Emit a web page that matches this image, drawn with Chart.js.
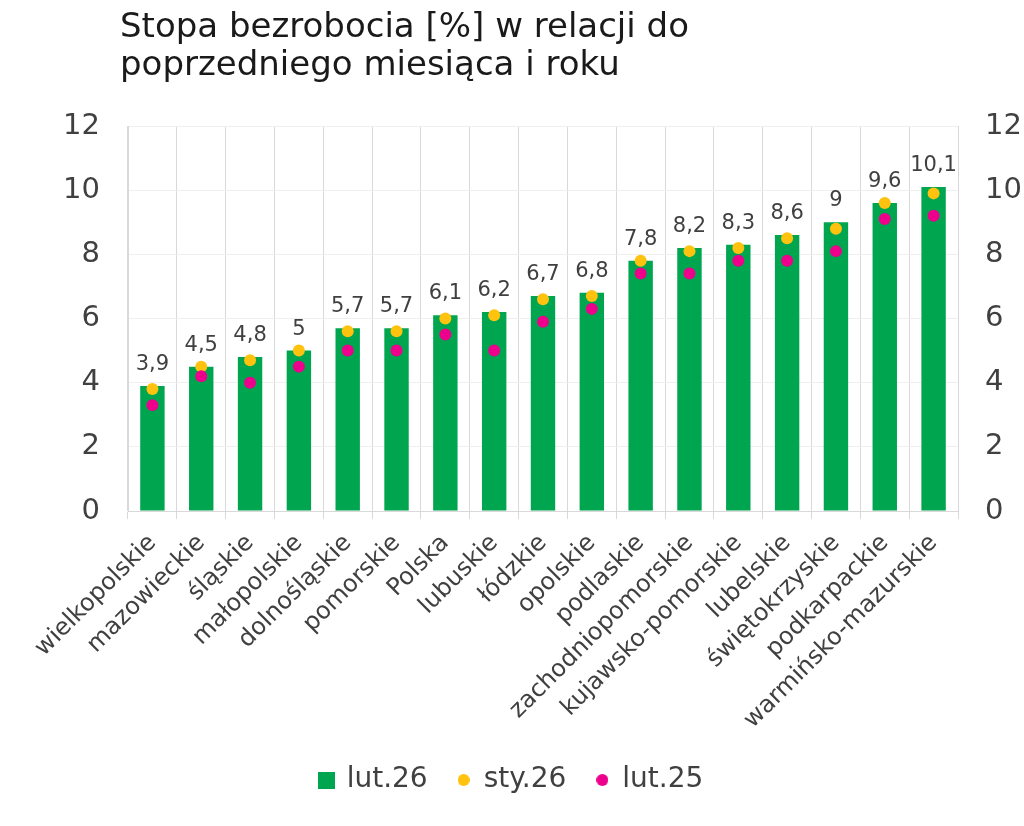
<!DOCTYPE html>
<html>
<head>
<meta charset="utf-8">
<script src="https://cdn.jsdelivr.net/npm/chart.js@4"></script>
<style>
  html, body { margin: 0; padding: 0; background: #fff; }
  #wrap { width: 1024px; height: 826px; position: relative; }
</style>
</head>
<body>
<div id="wrap"><canvas id="chart"></canvas></div>
<script>
const TITLE_LINES = ['Stopa bezrobocia [%] w relacji do', 'poprzedniego miesiąca i roku'];
const REGIONS = ['wielkopolskie', 'mazowieckie', 'śląskie', 'małopolskie', 'dolnośląskie', 'pomorskie', 'Polska',
  'lubuskie', 'łódzkie', 'opolskie', 'podlaskie', 'zachodniopomorskie', 'kujawsko-pomorskie', 'lubelskie',
  'świętokrzyskie', 'podkarpackie', 'warmińsko-mazurskie'];
const LUT26 = [3.9, 4.5, 4.8, 5, 5.7, 5.7, 6.1, 6.2, 6.7, 6.8, 7.8, 8.2, 8.3, 8.6, 9, 9.6, 10.1];
const STY26 = [3.8, 4.5, 4.7, 5.0, 5.6, 5.6, 6.0, 6.1, 6.6, 6.7, 7.8, 8.1, 8.2, 8.5, 8.8, 9.6, 9.9];
const LUT25 = [3.3, 4.2, 4.0, 4.5, 5.0, 5.0, 5.5, 5.0, 5.9, 6.3, 7.4, 7.4, 7.8, 7.8, 8.1, 9.1, 9.2];
const SERIES_NAMES = ['lut.26', 'sty.26', 'lut.25'];
const Y_MIN = 0, Y_MAX = 12, Y_STEP = 2;

const GREEN = '#00A64F';
const YELLOW = '#FFC20E';
const PINK = '#EC008C';
const TEXT = '#404040';
const FONT = "'DejaVu Sans', sans-serif";

function fmt(v) { return String(v).replace('.', ','); }

// small canvases used as legend markers
function marker(kind, color, size) {
  var c = document.createElement('canvas');
  c.width = size; c.height = size;
  var g = c.getContext('2d');
  g.fillStyle = color;
  if (kind === 'rect') g.fillRect(0, 0, size, size);
  else { g.beginPath(); g.arc(size / 2, size / 2, size / 2, 0, Math.PI * 2); g.fill(); }
  return c;
}

const titlePlugin = {
  id: 'leftTitle',
  afterDraw: function(chart) {
    var ctx = chart.ctx;
    ctx.save();
    ctx.fillStyle = '#1a1a1a';
    ctx.font = '34px ' + FONT;
    ctx.textBaseline = 'alphabetic';
    ctx.textAlign = 'left';
    TITLE_LINES.forEach(function(line, i) { ctx.fillText(line, 120, 37 + i * 38); });
    ctx.restore();
  }
};

const valueLabels = {
  id: 'valueLabels',
  afterDatasetsDraw: function(chart) {
    var ctx = chart.ctx;
    var meta = chart.getDatasetMeta(0);
    ctx.save();
    ctx.fillStyle = TEXT;
    ctx.font = '21px ' + FONT;
    ctx.textAlign = 'center';
    ctx.textBaseline = 'alphabetic';
    meta.data.forEach(function(bar, i) {
      ctx.fillText(fmt(LUT26[i]), bar.x, bar.y - 16);
    });
    ctx.restore();
  }
};

const markers = [marker('rect', GREEN, 17), marker('circle', YELLOW, 12), marker('circle', PINK, 12)];

new Chart(document.getElementById('chart'), {
  type: 'bar',
  data: {
    labels: REGIONS,
    datasets: [
      { label: SERIES_NAMES[0], data: LUT26, backgroundColor: GREEN, barPercentage: 0.5, categoryPercentage: 1, order: 3 },
      { type: 'line', label: SERIES_NAMES[1], data: STY26, showLine: false, backgroundColor: YELLOW, borderColor: YELLOW,
        pointRadius: 6, pointHoverRadius: 6, pointBorderWidth: 0, order: 2, pointStyle: 'circle' },
      { type: 'line', label: SERIES_NAMES[2], data: LUT25, showLine: false, backgroundColor: PINK, borderColor: PINK,
        pointRadius: 6, pointHoverRadius: 6, pointBorderWidth: 0, order: 1, pointStyle: 'circle' }
    ]
  },
  options: {
    responsive: true,
    maintainAspectRatio: false,
    animation: false,
    layout: { padding: { top: 126, left: 0, right: 0, bottom: 22 } },
    plugins: {
      tooltip: { enabled: false },
      legend: {
        position: 'bottom',
        labels: {
          color: TEXT,
          font: { family: FONT, size: 28 },
          usePointStyle: true,
          boxWidth: 12,
          boxHeight: 12,
          padding: 30,
          sort: function(a, b) { return a.datasetIndex - b.datasetIndex; },
          generateLabels: function(chart) {
            var items = Chart.defaults.plugins.legend.labels.generateLabels(chart);
            items.forEach(function(it) { it.pointStyle = markers[it.datasetIndex]; });
            return items;
          }
        }
      }
    },
    scales: {
      x: {
        offset: true,
        grid: { color: '#d9d9d9', offset: true, drawTicks: true, tickLength: 8 },
        border: { color: '#d9d9d9' },
        ticks: { color: TEXT, font: { family: FONT, size: 24 }, minRotation: 45, maxRotation: 45, padding: 10, autoSkip: false },
        afterFit: function(s) { s.height = 225; }
      },
      y: {
        min: Y_MIN, max: Y_MAX,
        grid: { color: '#efefef', drawTicks: false },
        border: { color: '#d9d9d9' },
        ticks: { stepSize: Y_STEP, color: TEXT, font: { family: FONT, size: 29 }, padding: 28 },
        afterFit: function(s) { s.width = 128; }
      },
      y2: {
        position: 'right',
        min: Y_MIN, max: Y_MAX,
        grid: { display: false, drawTicks: false },
        border: { color: '#d9d9d9' },
        ticks: { stepSize: Y_STEP, color: TEXT, font: { family: FONT, size: 29 }, padding: 27 },
        afterFit: function(s) { s.width = 66; }
      }
    }
  },
  plugins: [titlePlugin, valueLabels]
});
</script>
</body>
</html>
